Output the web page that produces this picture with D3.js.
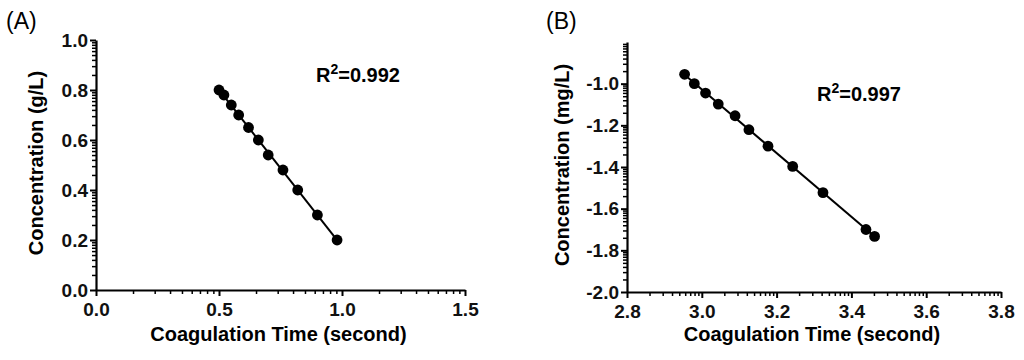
<!DOCTYPE html>
<html>
<head>
<meta charset="utf-8">
<script src="https://cdn.jsdelivr.net/npm/d3@7"></script>
<style>
  body { margin: 0; background: #fff; }
  svg { display: block; font-family: "Liberation Sans", Arial, sans-serif; }
  .axis path, .axis line { stroke: #000; }
  .axis text { font-size: 19px; font-weight: bold; fill: #111; font-family: "Liberation Sans", Arial, sans-serif; }
</style>
</head>
<body>
<script>
// panel A : concentration (g/L) vs coagulation time
var timeA = [0.50, 0.52, 0.55, 0.58, 0.62, 0.66, 0.70, 0.76, 0.82, 0.90, 0.98];
var concA = [0.80, 0.78, 0.74, 0.70, 0.65, 0.60, 0.54, 0.48, 0.40, 0.30, 0.20];
var xTicksA = [0.0, 0.5, 1.0, 1.5];
var yTicksA = [0.0, 0.2, 0.4, 0.6, 0.8, 1.0];

// panel B : log concentration (mg/L) vs log time
var timeB = [2.954, 2.980, 3.010, 3.044, 3.089, 3.126, 3.177, 3.243, 3.324, 3.439, 3.462];
var concB = [-0.955, -1.000, -1.045, -1.098, -1.154, -1.221, -1.300, -1.397, -1.523, -1.700, -1.733];
var xTicksB = [2.8, 3.0, 3.2, 3.4, 3.6, 3.8];
var yTicksB = [-2.0, -1.8, -1.6, -1.4, -1.2, -1.0];

var panels = [
  { tag: "(A)", xs: timeA, ys: concA, xt: xTicksA, yt: yTicksA, xDom: [0, 1.5], yDom: [0, 1.0],
    left: 96, right: 465, top: 40, bottom: 290, r2: "0.992", r2x: 316, r2y: 82, tagX: 6,
    yLabel: "Concentration (g/L)", yLabX: 43 },
  { tag: "(B)", xs: timeB, ys: concB, xt: xTicksB, yt: yTicksB, xDom: [2.8, 3.8], yDom: [-2.0, -0.8],
    left: 627, right: 1001, top: 42, bottom: 292, r2: "0.997", r2x: 817, r2y: 101, tagX: 546,
    yLabel: "Concentration (mg/L)", yLabX: 569 }
];

var svg = d3.select("body").append("svg")
  .attr("width", 1024)
  .attr("height", 360);

// GraphPad style minor ticks (log spacing inside each major step)
function minors(ticks, top) {
  var out = [];
  var step = ticks[1] - ticks[0];
  var starts = ticks.slice();
  if (top <= ticks[ticks.length - 1] + 1e-9) starts = starts.slice(0, -1);
  starts.forEach(function(a) {
    for (var k = 2; k <= 9; k++) {
      var v = a + step * Math.log10(k);
      if (v <= top + 1e-9) out.push(v);
    }
  });
  return out;
}

panels.forEach(function(p) {
  var x = d3.scaleLinear().domain(p.xDom).range([p.left, p.right]);
  var y = d3.scaleLinear().domain(p.yDom).range([p.bottom, p.top]);
  var fmt = function(d) { return d.toFixed(1); };

  var g = svg.append("g");

  // minor ticks
  g.append("g").attr("class", "axis")
    .attr("transform", "translate(0," + p.bottom + ")")
    .call(d3.axisBottom(x).tickValues(minors(p.xt, p.xDom[1])).tickSize(4).tickFormat(""))
    .call(function(s) { s.select(".domain").remove(); s.selectAll("line").attr("stroke-width", 1.5); });
  g.append("g").attr("class", "axis")
    .attr("transform", "translate(" + p.left + ",0)")
    .call(d3.axisLeft(y).tickValues(minors(p.yt, p.yDom[1])).tickSize(4).tickFormat(""))
    .call(function(s) { s.select(".domain").remove(); s.selectAll("line").attr("stroke-width", 1.5); });

  // major ticks + labels
  g.append("g").attr("class", "axis")
    .attr("transform", "translate(0," + p.bottom + ")")
    .call(d3.axisBottom(x).tickValues(p.xt).tickSize(6).tickSizeOuter(0).tickPadding(7).tickFormat(fmt))
    .call(function(s) {
      s.select(".domain").attr("stroke-width", 2.2);
      s.selectAll("line").attr("stroke-width", 2);
    });
  g.append("g").attr("class", "axis")
    .attr("transform", "translate(" + p.left + ",0)")
    .call(d3.axisLeft(y).tickValues(p.yt).tickSize(6).tickSizeOuter(0).tickPadding(2).tickFormat(fmt))
    .call(function(s) {
      s.select(".domain").attr("stroke-width", 2.2);
      s.selectAll("line").attr("stroke-width", 2);
    });

  // linear fit through the points
  var pts = p.xs.map(function(v, i) { return [v, p.ys[i]]; });
  var mx = d3.mean(p.xs), my = d3.mean(p.ys);
  var slope = d3.sum(pts, function(d) { return (d[0] - mx) * (d[1] - my); }) /
              d3.sum(pts, function(d) { return (d[0] - mx) * (d[0] - mx); });
  var ext = d3.extent(p.xs);
  var fit = ext.map(function(v) { return [v, my + slope * (v - mx)]; });

  g.append("path")
    .datum(fit)
    .attr("fill", "none")
    .attr("stroke", "#000")
    .attr("stroke-width", 2)
    .attr("d", d3.line().x(function(d) { return x(d[0]); }).y(function(d) { return y(d[1]); }));

  g.selectAll("circle")
    .data(pts)
    .enter().append("circle")
    .attr("cx", function(d) { return x(d[0]); })
    .attr("cy", function(d) { return y(d[1]); })
    .attr("r", 5.4)
    .attr("fill", "#000");

  // texts
  g.append("text")
    .attr("x", p.tagX).attr("y", 29)
    .attr("font-size", 23)
    .text(p.tag);

  var r2 = g.append("text")
    .attr("x", p.r2x).attr("y", p.r2y)
    .attr("font-size", 20).attr("font-weight", "bold");
  r2.append("tspan").text("R");
  r2.append("tspan").attr("font-size", 14).attr("dy", -8).text("2");
  r2.append("tspan").attr("dy", 8).text("=" + p.r2);

  g.append("text")
    .attr("transform", "translate(" + p.yLabX + "," + ((p.top + p.bottom) / 2 - 2) + ") rotate(-90)")
    .attr("text-anchor", "middle")
    .attr("font-size", 20).attr("font-weight", "bold")
    .text(p.yLabel);

  g.append("text")
    .attr("x", (p.left + p.right) / 2 - 2).attr("y", 341)
    .attr("text-anchor", "middle")
    .attr("font-size", 20).attr("font-weight", "bold")
    .text("Coagulation Time (second)");
});
</script>
</body>
</html>
